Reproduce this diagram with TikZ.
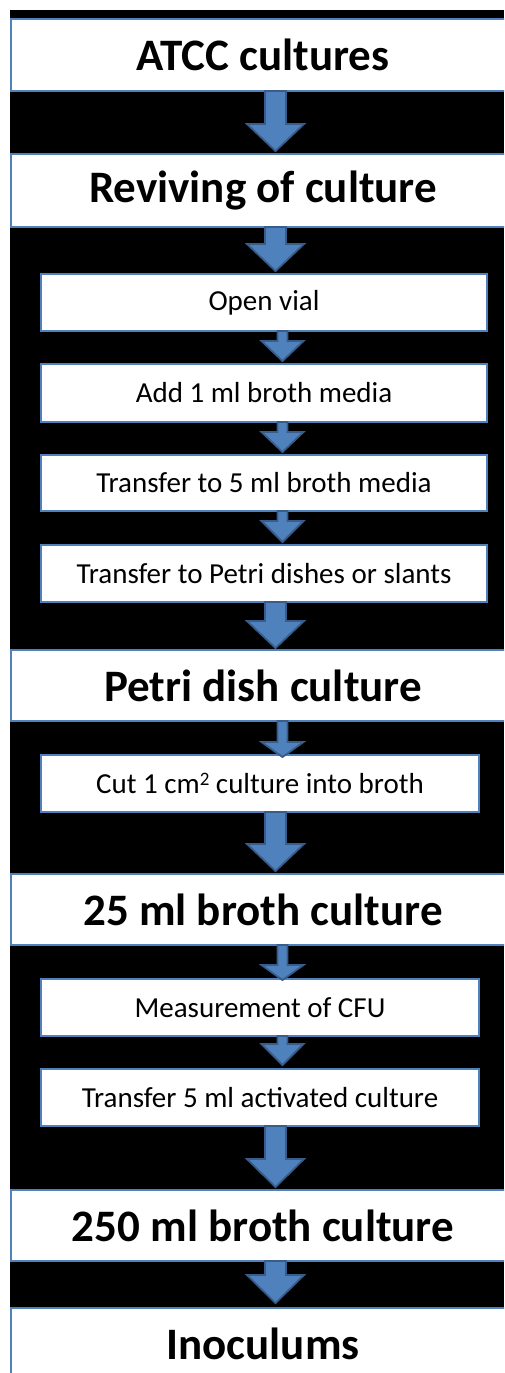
\documentclass[tikz,border=0pt]{standalone}
\usepackage{fontspec}
\setmainfont{Carlito}
\usetikzlibrary{calc}
\definecolor{boxblue}{HTML}{4F81BD}
\definecolor{arrowfill}{HTML}{4F81BD}
\definecolor{arrowline}{HTML}{385D8A}
\tikzset{
  bigbox/.style={draw=boxblue, line width=1.5pt, fill=white, rectangle, inner sep=0pt, outer sep=0pt,
    minimum width=504pt, font=\fontsize{45}{50}\selectfont\bfseries},
  smallbox/.style={draw=boxblue, line width=1.5pt, fill=white, rectangle, inner sep=0pt, outer sep=0pt,
    font=\fontsize{29}{33}\selectfont},
  blockarrow/.style={fill=arrowfill, draw=arrowline, line width=1.8pt, line join=miter}
}
% #1 from node, #2 to node, #3 centre x, #4 shaft half width, #5 head half width, #6 head length, #7 tip offset
\newcommand\barrow[7]{%
  \path let \p1=(#1.south), \p2=(#2.north) in
    [blockarrow] ({#3pt-#4pt},\y1) -- ({#3pt+#4pt},\y1) -- ({#3pt+#4pt},{\y2-#7pt+#6pt})
    -- ({#3pt+#5pt},{\y2-#7pt+#6pt}) -- ({#3pt},{\y2-#7pt})
    -- ({#3pt-#5pt},{\y2-#7pt+#6pt}) -- ({#3pt-#4pt},{\y2-#7pt+#6pt}) -- cycle;}
\begin{document}
\begin{tikzpicture}[x=1pt,y=-1pt]
\useasboundingbox (0,0) rectangle (504,1373);
\clip (0,0) rectangle (504,1373);
\fill[white] (0,0) rectangle (504,1373);
\fill[black] (10,10) rectangle (504,1373);

\node[bigbox, minimum height=72pt] (atcc) at (263,55) {ATCC cultures};
\node[bigbox, minimum height=73pt] (reviv) at (263,190.5) {Reviving of culture};
\node[smallbox, minimum width=446pt, minimum height=57pt] (open) at (264,302.5) {Open vial};
\node[smallbox, minimum width=446pt, minimum height=58pt] (add) at (264,393) {Add 1 ml broth media};
\node[smallbox, minimum width=446pt, minimum height=56pt] (tr5) at (264,483) {Transfer to 5 ml broth media};
\node[smallbox, minimum width=446pt, minimum height=57pt] (trp) at (264,573.5) {Transfer to Petri dishes or slants};
\node[bigbox, minimum height=71pt] (petri) at (263,685.5) {Petri dish culture};
\node[smallbox, minimum width=438pt, minimum height=57pt] (cut) at (260,783.5) {Cut 1 cm\raisebox{0.55ex}{\fontsize{19}{20}\selectfont 2} culture into broth};
\node[bigbox, minimum height=71pt] (b25) at (263,909.5) {25 ml broth culture};
\node[smallbox, minimum width=438pt, minimum height=57pt] (cfu) at (260,1007.5) {Measurement of CFU};
\node[smallbox, minimum width=438pt, minimum height=57pt] (act) at (260,1097.5) {Transfer 5 ml activated culture};
\node[bigbox, minimum height=71pt] (b250) at (263,1225.5) {250 ml broth culture};
\node[bigbox, minimum height=71pt] (inoc) at (263,1343.5) {Inoculums};

\barrow{atcc}{reviv}{275.5}{10.5}{28.5}{27}{-3}
\barrow{reviv}{open}{275.5}{10.5}{28.5}{27}{-3}
\barrow{open}{add}{282.5}{5}{21}{20}{-3}
\barrow{add}{tr5}{282.5}{5}{21}{20}{-3}
\barrow{tr5}{trp}{282.5}{5}{21}{21}{-3}
\barrow{trp}{petri}{275.5}{10.5}{28.5}{27}{-2}
\barrow{petri}{cut}{282.5}{5}{21}{15}{2}
\barrow{cut}{b25}{275.5}{10.5}{28.5}{27}{-3}
\barrow{b25}{cfu}{282.5}{5}{21}{15}{1}
\barrow{cfu}{act}{282.5}{5}{21}{21}{-4}
\barrow{act}{b250}{275.5}{10.5}{28.5}{28}{-3}
\barrow{b250}{inoc}{275.5}{10.5}{28.5}{28}{-5}
\end{tikzpicture}
\end{document}
